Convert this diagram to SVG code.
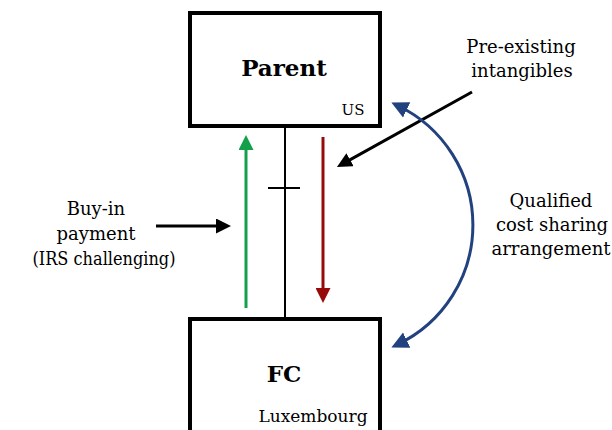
<svg xmlns="http://www.w3.org/2000/svg" width="612" height="430" viewBox="0 0 612 430">
<style>
.box{fill:#fff;stroke:#000;stroke-width:4}
.t{font-family:"DejaVu Serif","Liberation Serif",serif;fill:#000}
.lbl{font-size:18px;text-anchor:middle}
.big{font-size:23px;font-weight:bold;text-anchor:middle}
.ln{fill:none;stroke-width:3}
</style>
<defs>
<marker id="hk" viewBox="0 0 10 10" refX="6" refY="5" markerWidth="15" markerHeight="15" markerUnits="userSpaceOnUse" orient="auto-start-reverse"><path d="M0,0 L10,5 L0,10 z" fill="#000"/></marker>
<marker id="hg" viewBox="0 0 10 10" refX="6" refY="5" markerWidth="15" markerHeight="15" markerUnits="userSpaceOnUse" orient="auto-start-reverse"><path d="M0,0 L10,5 L0,10 z" fill="#12A04A"/></marker>
<marker id="hr" viewBox="0 0 10 10" refX="6" refY="5" markerWidth="15" markerHeight="15" markerUnits="userSpaceOnUse" orient="auto-start-reverse"><path d="M0,0 L10,5 L0,10 z" fill="#960A0A"/></marker>
<marker id="hb" viewBox="0 0 10 10" refX="6" refY="5" markerWidth="17" markerHeight="18" markerUnits="userSpaceOnUse" orient="auto-start-reverse"><path d="M0,0 L10,5 L0,10 z" fill="#22427F"/></marker>
</defs>
<g id="connectors">
<line x1="285" y1="126" x2="285" y2="319" stroke="#000" stroke-width="2"/>
<line x1="268" y1="188" x2="300" y2="188" stroke="#000" stroke-width="2"/>
<line class="ln" x1="246" y1="308" x2="246" y2="141" stroke="#12A04A" marker-end="url(#hg)"/>
<line class="ln" x1="323" y1="137" x2="323" y2="297" stroke="#960A0A" marker-end="url(#hr)"/>
<line class="ln" x1="156" y1="226" x2="225" y2="226" stroke="#000" stroke-width="2" marker-end="url(#hk)"/>
<line class="ln" x1="472" y1="92" x2="342.2" y2="164.1" stroke="#000" stroke-width="2" marker-end="url(#hk)"/>
<path class="ln" d="M397.5,105.5 A132.4,132.4 0 0 1 397.5,344.5" stroke="#22427F" stroke-width="4" marker-start="url(#hb)" marker-end="url(#hb)"/>
</g>
<g id="parent">
<rect class="box" x="190" y="13" width="190" height="113"/>
<text class="t big" x="284" y="76">Parent</text>
<text class="t" x="353" y="115" font-size="15" text-anchor="middle">US</text>
</g>
<g id="fc">
<rect class="box" x="190" y="319" width="190" height="130"/>
<text class="t big" x="284" y="382" font-size="24">FC</text>
<text class="t" x="313" y="422" font-size="17" text-anchor="middle">Luxembourg</text>
</g>
<g id="label-preexisting">
<text class="t lbl" x="521" y="53">Pre-existing</text>
<text class="t lbl" x="522" y="77">intangibles</text>
</g>
<g id="label-qcsa">
<text class="t lbl" x="551" y="207">Qualified</text>
<text class="t lbl" x="552" y="231">cost sharing</text>
<text class="t lbl" x="551" y="255">arrangement</text>
</g>
<g id="label-buyin">
<text class="t lbl" x="96" y="215">Buy-in</text>
<text class="t lbl" x="96" y="240">payment</text>
<text class="t lbl" x="104" y="265" textLength="143" lengthAdjust="spacingAndGlyphs">(IRS challenging)</text>
</g>
</svg>
